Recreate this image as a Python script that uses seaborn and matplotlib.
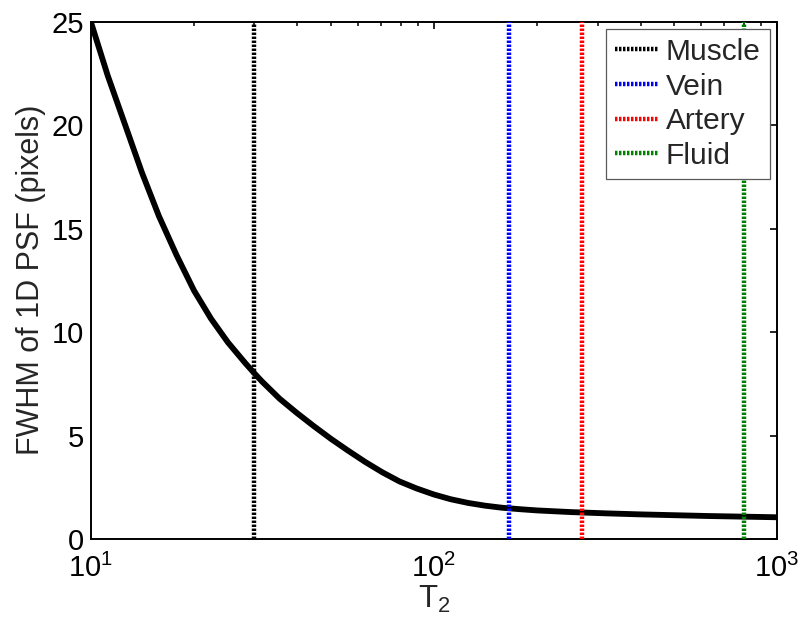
import matplotlib
matplotlib.use("Agg")
import matplotlib.pyplot as plt
import seaborn as sns
import numpy as np
import pandas as pd
from matplotlib.ticker import LogLocator, NullFormatter, FixedLocator

# Curve: FWHM of 1D PSF vs T2
t2_values = [10.0, 11.2, 12.6, 14.1, 15.8, 17.8, 20.0, 22.4, 25.1, 28.2, 30.0, 31.6,
             35.5, 39.8, 44.7, 50.1, 56.2, 63.1, 70.8, 79.4, 89.1, 100, 112, 126,
             141, 158, 178, 200, 251, 316, 398, 501, 631, 794, 1000]
fwhm_values = [25.0, 22.4, 20.0, 17.7, 15.6, 13.7, 12.0, 10.65, 9.5, 8.5, 8.0, 7.6,
               6.78, 6.1, 5.45, 4.84, 4.27, 3.72, 3.22, 2.78, 2.44, 2.15, 1.92, 1.74,
               1.61, 1.51, 1.44, 1.38, 1.30, 1.24, 1.19, 1.15, 1.11, 1.08, 1.05]

# Tissue T2 markers
tissue_names = ["Muscle", "Vein", "Artery", "Fluid"]
tissue_t2 = [30, 166, 271, 800]
tissue_colors = ["#000000", "#0000ff", "#ff0000", "#008000"]

y_ticks = [0, 5, 10, 15, 20, 25]

sns.set_theme(style="white")
plt.rcParams["font.family"] = ["Liberation Sans", "DejaVu Sans"]
plt.rcParams["mathtext.fontset"] = "custom"
plt.rcParams["mathtext.rm"] = "Liberation Sans"
plt.rcParams["mathtext.it"] = "Liberation Sans:italic"
plt.rcParams["mathtext.bf"] = "Liberation Sans:bold"

fig = plt.figure(figsize=(8.03, 6.33), dpi=100)
ax = fig.add_axes([0.1130, 0.1485, 0.8547, 0.8175])

df = pd.DataFrame({"T2": t2_values, "FWHM": fwhm_values})
sns.lineplot(data=df, x="T2", y="FWHM", color="black", linewidth=4.2, ax=ax,
             zorder=2, solid_capstyle="butt", solid_joinstyle="round")

handles = []
for name, x, c in zip(tissue_names, tissue_t2, tissue_colors):
    h = ax.axvline(x, color=c, linewidth=3.2, linestyle=(0, (0.55, 0.35)),
                   dash_capstyle="butt", label=name, zorder=3)
    handles.append(h)

ax.set_xscale("log")
ax.set_xlim(10, 1000)
ax.set_ylim(0, 25)
ax.yaxis.set_major_locator(FixedLocator(y_ticks))
ax.xaxis.set_major_locator(LogLocator(base=10, numticks=10))
ax.xaxis.set_minor_locator(LogLocator(base=10, subs=np.arange(2, 10), numticks=10))
ax.xaxis.set_minor_formatter(NullFormatter())

for s in ax.spines.values():
    s.set_linewidth(1.4)
    s.set_color("black")
    s.set_visible(True)

ax.tick_params(which="both", direction="in", top=True, right=True, colors="black")
ax.tick_params(which="major", length=5, width=1.2, labelsize=21)
ax.tick_params(axis="y", which="major", pad=5)
ax.tick_params(axis="x", which="major", pad=11)
ax.tick_params(which="minor", length=2.7, width=1.1)
ax.tick_params(axis="y", which="minor", left=False, right=False)

ax.set_xlabel("T$_2$", fontsize=22.5, labelpad=0)
ax.set_ylabel("FWHM of 1D PSF (pixels)", fontsize=22, labelpad=4)

leg = ax.legend(handles=handles, loc="upper right", fontsize=21.5, frameon=True,
                fancybox=False, framealpha=1, edgecolor="0.35",
                borderaxespad=0.25, borderpad=0.3, labelspacing=0.22,
                handlelength=1.45, handletextpad=0.25)
leg.get_frame().set_linewidth(0.9)

ax.grid(False)
fig.savefig("out.png", dpi=100)
